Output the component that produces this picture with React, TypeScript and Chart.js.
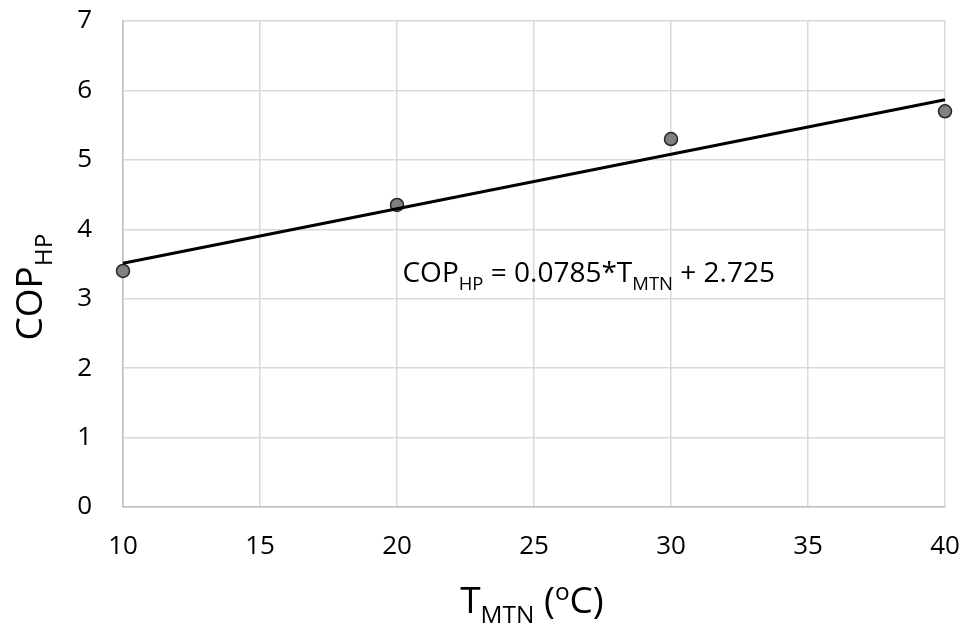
import React, { useEffect, useRef } from "react";
import { Chart, registerables } from "chart.js";

Chart.register(...registerables);

// Measured heat-pump COP at each MTN temperature
const T_MTN = [10, 20, 30, 40];
const COP_HP = [3.4, 4.35, 5.3, 5.7];

// Linear fit shown on the chart
const FIT_SLOPE = 0.0785;
const FIT_INTERCEPT = 2.725;

const X_MIN = 10;
const X_MAX = 40;
const X_STEP = 5;
const Y_MIN = 0;
const Y_MAX = 7;
const Y_STEP = 1;

const FONT = '"Open Sans", "Noto Sans", sans-serif';

type Seg = { t: string; k?: "sub" | "sup" };

function segFont(size: number, k?: string) {
  const s = k ? size * 0.66 : size;
  return `${s}px ${FONT}`;
}

function richWidth(ctx: CanvasRenderingContext2D, segs: Seg[], size: number) {
  let w = 0;
  for (const s of segs) {
    ctx.font = segFont(size, s.k);
    w += ctx.measureText(s.t).width;
  }
  return w;
}

// Draws a run of text with sub/superscripts; x is the left edge, y the baseline
function drawRich(ctx: CanvasRenderingContext2D, segs: Seg[], x: number, y: number, size: number) {
  ctx.textBaseline = "alphabetic";
  ctx.textAlign = "left";
  let cx = x;
  for (const s of segs) {
    ctx.font = segFont(size, s.k);
    const dy = s.k === "sub" ? size * 0.28 : s.k === "sup" ? -size * 0.36 : 0;
    ctx.fillText(s.t, cx, y + dy);
    cx += ctx.measureText(s.t).width;
  }
}

const labelsPlugin = {
  id: "richLabels",
  afterDraw(chart: any) {
    const ctx: CanvasRenderingContext2D = chart.ctx;
    const area = chart.chartArea;
    const xs = chart.scales.x;
    const ys = chart.scales.y;
    ctx.save();
    ctx.fillStyle = "#000000";

    // Fit equation
    const eq: Seg[] = [
      { t: "COP" },
      { t: "HP", k: "sub" },
      { t: " = 0.0785*T" },
      { t: "MTN", k: "sub" },
      { t: " + 2.725" },
    ];
    drawRich(ctx, eq, xs.getPixelForValue(20.2), ys.getPixelForValue(3.24), 28);

    // X axis title
    const xt: Seg[] = [{ t: "T" }, { t: "MTN", k: "sub" }, { t: " (" }, { t: "o", k: "sup" }, { t: "C)" }];
    const xSize = 37;
    const xw = richWidth(ctx, xt, xSize);
    const xc = (area.left + area.right) / 2 - 2;
    drawRich(ctx, xt, xc - xw / 2, area.bottom + 106, xSize);

    // Y axis title (rotated)
    const yt: Seg[] = [{ t: "COP" }, { t: "HP", k: "sub" }];
    const ySize = 37;
    const yw = richWidth(ctx, yt, ySize);
    ctx.translate(42, (area.top + area.bottom) / 2 + 23);
    ctx.rotate(-Math.PI / 2);
    drawRich(ctx, yt, -yw / 2, 0, ySize);

    ctx.restore();
  },
};

export default function App() {
  const ref = useRef<HTMLCanvasElement | null>(null);

  useEffect(() => {
    if (!ref.current) return;
    const fitLine = [X_MIN, X_MAX].map((t) => ({ x: t, y: FIT_SLOPE * t + FIT_INTERCEPT }));
    const points = T_MTN.map((t, i) => ({ x: t, y: COP_HP[i] }));

    const chart = new Chart(ref.current, {
      type: "scatter",
      data: {
        datasets: [
          {
            label: "Linear fit",
            data: fitLine,
            showLine: true,
            borderColor: "#000000",
            borderWidth: 3,
            pointRadius: 0,
            clip: false,
          },
          {
            label: "COP",
            data: points,
            showLine: false,
            pointRadius: 6.5,
            backgroundColor: "#808080",
            borderColor: "#262626",
            borderWidth: 1.5,
            clip: false,
          },
        ],
      },
      options: {
        responsive: false,
        animation: false,
        devicePixelRatio: 1,
        layout: { padding: { top: 21, right: 24, left: 0, bottom: 0 } },
        plugins: {
          legend: { display: false },
          tooltip: { enabled: false },
        },
        scales: {
          x: {
            type: "linear",
            min: X_MIN,
            max: X_MAX,
            afterFit: (s: any) => {
              s.height = 125;
              s.paddingLeft = 0;
              s.paddingRight = 0;
            },
            ticks: {
              stepSize: X_STEP,
              color: "#000000",
              font: { family: FONT, size: 26 },
              padding: 24,
              maxRotation: 0,
            },
            grid: { color: "#d9d9d9", lineWidth: 1.5, drawTicks: false },
            border: { color: "#bfbfbf", width: 1.5 },
          },
          y: {
            type: "linear",
            min: Y_MIN,
            max: Y_MAX,
            afterFit: (s: any) => {
              s.width = 123;
              s.paddingTop = 0;
              s.paddingBottom = 0;
            },
            ticks: {
              stepSize: Y_STEP,
              color: "#000000",
              font: { family: FONT, size: 26 },
              padding: 31,
            },
            grid: { color: "#d9d9d9", lineWidth: 1.5, drawTicks: false },
            border: { color: "#bfbfbf", width: 1.5 },
          },
        },
      },
      plugins: [labelsPlugin],
    });
    return () => chart.destroy();
  }, []);

  return (
    <div style={{ position: "fixed", left: 0, top: 0, width: 969, height: 632, background: "#ffffff" }}>
      <canvas ref={ref} width={969} height={632} />
    </div>
  );
}
